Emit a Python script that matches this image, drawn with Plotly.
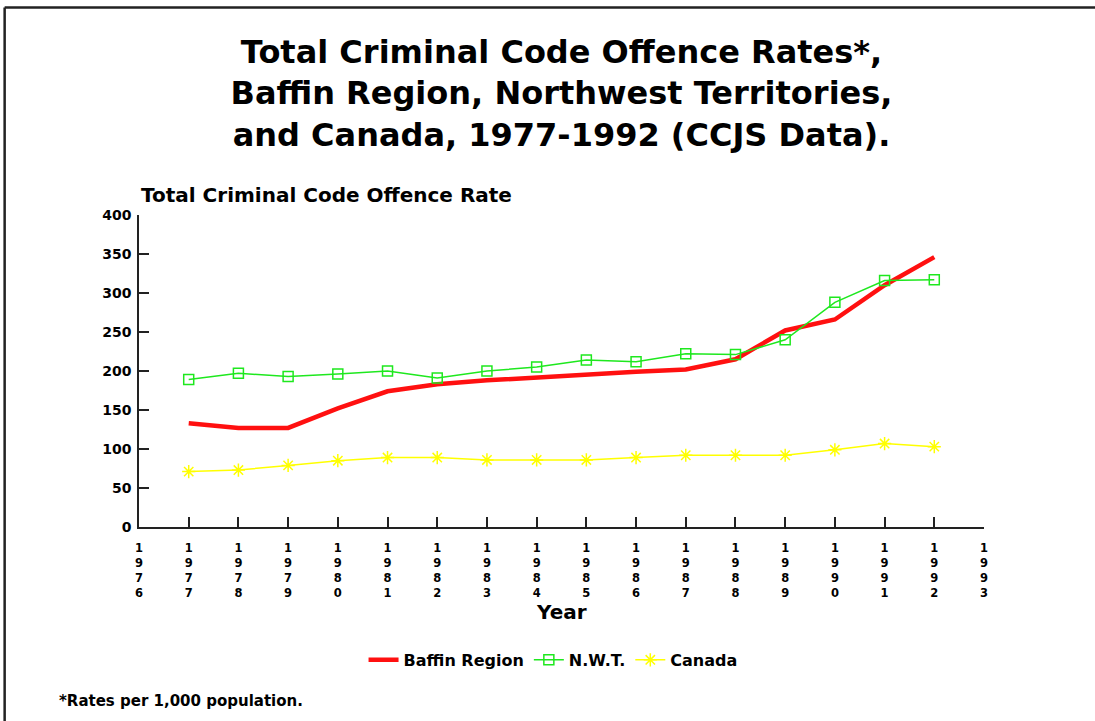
import plotly.graph_objects as go

years = list(range(1977, 1993))
baffin = [133, 127, 127, 152, 174, 183, 188, 192, 195, 199, 202, 215, 252, 266, 310, 346]
nwt = [189, 197, 193, 196, 200, 191, 200, 205, 214, 212, 222, 221, 240, 288, 316, 317]
canada = [71, 73, 79, 85, 89, 89, 86, 86, 86, 89, 92, 92, 92, 99, 107, 103]

tick_years = list(range(1976, 1994))
tick_text = ["<br>".join(str(y)) for y in tick_years]
y_ticks = [0, 50, 100, 150, 200, 250, 300, 350, 400]

title_text = ("Total Criminal Code Offence Rates*,<br>"
              "Baffin Region, Northwest Territories,<br>"
              "and Canada, 1977-1992 (CCJS Data).")

BOLD = "DejaVu Sans"

fig = go.Figure()
fig.add_trace(go.Scatter(x=years, y=baffin, name="Baffin Region", mode="lines",
                         line=dict(color="#ff1010", width=4.5)))
fig.add_trace(go.Scatter(x=years, y=nwt, name="N.W.T.", mode="lines+markers",
                         line=dict(color="#1ee81e", width=1.5),
                         marker=dict(symbol="square-open", size=10, color="#1ee81e",
                                     line=dict(width=1.5, color="#1ee81e"))))
fig.add_trace(go.Scatter(x=years, y=canada, name="Canada", mode="lines+markers",
                         line=dict(color="#ffff00", width=1.5),
                         marker=dict(symbol="asterisk-open", size=11, color="#ffff00",
                                     line=dict(width=1.5, color="#ffff00"))))

fig.update_layout(
    width=1095, height=721, autosize=False,
    paper_bgcolor="white", plot_bgcolor="white",
    margin=dict(l=139, r=111, t=215, b=194),
    showlegend=True,
    legend=dict(orientation="h", x=0.49, xanchor="center", y=-0.426, yanchor="middle",
                font=dict(family=BOLD, size=16, color="black", weight="bold"),
                itemwidth=30, tracegroupgap=0, bgcolor="rgba(0,0,0,0)"),
    title=dict(text=title_text, x=0.5, xanchor="center", xref="paper",
               y=0.913, yanchor="middle", yref="container",
               font=dict(family=BOLD, size=32, color="black", weight="bold")),
    font=dict(family=BOLD, color="black"),
)

fig.update_xaxes(range=[1976, 1993], tickvals=tick_years, ticktext=tick_text,
                 showgrid=False, zeroline=False, showline=True, linecolor="#222",
                 linewidth=2, ticks="inside", ticklen=10, tickwidth=1.5, tickcolor="#222",
                 tickfont=dict(family=BOLD, size=11.5, color="black", weight="bold"),
                 tickangle=0, ticklabelstandoff=9)
fig.update_yaxes(range=[0, 400], tickvals=y_ticks,
                 showgrid=False, zeroline=False, showline=True, linecolor="#222",
                 linewidth=1.5, ticks="inside", ticklen=10, tickwidth=1.5, tickcolor="#222",
                 tickfont=dict(family=BOLD, size=14, color="black", weight="bold"),
                 ticklabelstandoff=3)

fig.add_annotation(text="Total Criminal Code Offence Rate", xref="paper", yref="paper",
                   x=0, y=1.0, xanchor="left", yanchor="bottom", yshift=6, showarrow=False,
                   font=dict(family=BOLD, size=20, color="black", weight="bold"))
fig.add_annotation(text="Year", xref="paper", yref="paper",
                   x=0.5, y=-0.272, xanchor="center", yanchor="middle", showarrow=False,
                   font=dict(family=BOLD, size=20, color="black", weight="bold"))
fig.add_annotation(text="*Rates per 1,000 population.", xref="paper", yref="paper",
                   x=-0.097, y=-0.558, xanchor="left", yanchor="middle", showarrow=False,
                   font=dict(family=BOLD, size=15, color="black", weight="bold"))

# page frame (top and left edges)
fig.add_shape(type="line", xref="paper", yref="paper", x0=-0.159, x1=1.14, y0=1.665, y1=1.665,
              line=dict(color="#222", width=2.5))
fig.add_shape(type="line", xref="paper", yref="paper", x0=-0.159, x1=-0.159, y0=1.665, y1=-0.63,
              line=dict(color="#222", width=2.5))

fig.write_html("out.html", config={"displayModeBar": False},
               post_script="document.body.style.margin='0px';")
